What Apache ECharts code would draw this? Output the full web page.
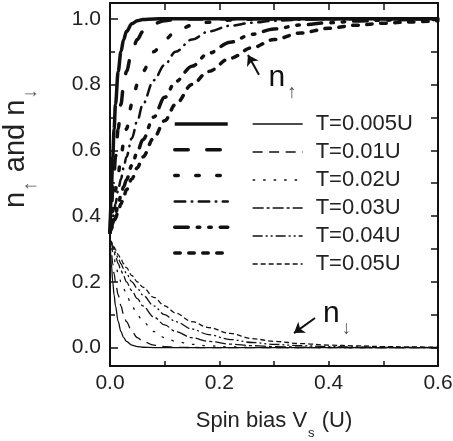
<!DOCTYPE html>
<html><head><meta charset="utf-8">
<script src="https://cdn.jsdelivr.net/npm/echarts@6/dist/echarts.min.js"></script>
<style>html,body{margin:0;padding:0;background:#fff}#c{width:453px;height:441px}</style>
</head><body><div id="c"></div>
<script>
// ---------- data ----------
const V = [0, 0.0025, 0.005, 0.0075, 0.01, 0.015, 0.02, 0.025, 0.03, 0.04, 0.05, 0.06, 0.08, 0.1, 0.12, 0.15, 0.18, 0.22, 0.26, 0.3, 0.35, 0.4, 0.45, 0.5, 0.55, 0.6];
const labels = ['T=0.005U', 'T=0.01U', 'T=0.02U', 'T=0.03U', 'T=0.04U', 'T=0.05U'];

const up_T005 = [0.35, 0.48, 0.58, 0.665, 0.74, 0.84, 0.90, 0.937, 0.961, 0.985, 0.994, 0.998, 0.9996, 1, 1, 1, 1, 1, 1, 1, 1, 1, 1, 1, 1, 1];
const up_T01  = [0.35, 0.415, 0.48, 0.53, 0.58, 0.665, 0.74, 0.80, 0.84, 0.90, 0.937, 0.961, 0.985, 0.994, 0.998, 0.9995, 0.9998, 1, 1, 1, 1, 1, 1, 1, 1, 1];
const up_T02  = [0.35, 0.3825, 0.415, 0.4475, 0.48, 0.53, 0.58, 0.6225, 0.665, 0.74, 0.80, 0.84, 0.90, 0.937, 0.961, 0.9805, 0.9895, 0.996, 0.9985, 0.9995, 0.9998, 1, 1, 1, 1, 1];
const up_T03  = [0.35, 0.3716, 0.393, 0.415, 0.4366, 0.48, 0.513, 0.547, 0.58, 0.637, 0.69, 0.74, 0.813, 0.86, 0.90, 0.937, 0.961, 0.979, 0.988, 0.994, 0.9973, 0.9987, 0.9995, 0.9997, 0.9999, 1];
const up_T04  = [0.35, 0.364, 0.378, 0.392, 0.406, 0.435, 0.463, 0.489, 0.51, 0.554, 0.595, 0.632, 0.701, 0.761, 0.809, 0.856, 0.895, 0.929, 0.953, 0.969, 0.9815, 0.988, 0.993, 0.9957, 0.998, 0.9982];
const up_T05  = [0.35, 0.361, 0.3716, 0.3825, 0.393, 0.415, 0.4366, 0.458, 0.48, 0.513, 0.547, 0.58, 0.637, 0.69, 0.74, 0.80, 0.84, 0.88, 0.912, 0.937, 0.957, 0.971, 0.9805, 0.9865, 0.9904, 0.994];

const down_T005 = [0.33, 0.255, 0.2, 0.16, 0.127, 0.079, 0.049, 0.03, 0.019, 0.0075, 0.003, 0.001, 0.0001, 0, 0, 0, 0, 0, 0, 0, 0, 0, 0, 0, 0, 0];
const down_T01  = [0.33, 0.29, 0.255, 0.225, 0.2, 0.16, 0.127, 0.1, 0.079, 0.049, 0.03, 0.019, 0.0075, 0.003, 0.001, 0.0002, 0.0001, 0, 0, 0, 0, 0, 0, 0, 0, 0];
const down_T02  = [0.33, 0.31, 0.29, 0.2725, 0.255, 0.225, 0.2, 0.18, 0.16, 0.127, 0.1, 0.079, 0.049, 0.03, 0.019, 0.0098, 0.0053, 0.002, 0.0007, 0.0002, 0.0001, 0, 0, 0, 0, 0];
const down_T03  = [0.33, 0.317, 0.303, 0.29, 0.278, 0.255, 0.235, 0.217, 0.2, 0.173, 0.149, 0.127, 0.093, 0.069, 0.049, 0.03, 0.019, 0.0105, 0.006, 0.003, 0.0013, 0.0006, 0.0002, 0.0001, 0, 0];
const down_T04  = [0.33, 0.32, 0.31, 0.30, 0.29, 0.2725, 0.255, 0.24, 0.225, 0.2, 0.18, 0.16, 0.127, 0.1, 0.079, 0.0565, 0.0395, 0.0245, 0.0155, 0.0098, 0.0058, 0.003, 0.0018, 0.0009, 0.0005, 0.0002];
const down_T05  = [0.33, 0.322, 0.314, 0.306, 0.298, 0.283, 0.269, 0.255, 0.243, 0.219, 0.2, 0.184, 0.153, 0.127, 0.105, 0.079, 0.061, 0.043, 0.0272, 0.019, 0.012, 0.0075, 0.0053, 0.003, 0.002, 0.001];

const yTicks = [0, 0.2, 0.4, 0.6, 0.8, 1.0];
const yMinorTicks = [0.1, 0.3, 0.5, 0.7, 0.9];
const yFineTicks = [0, 0.1, 0.2, 0.3, 0.4, 0.5, 0.6, 0.7, 0.8, 0.9, 1.0];

// annotations (data coordinates)
const arrowUp = [[0.2725, 0.8295], [0.2524, 0.890]];
const arrowDown = [[0.375, 0.0898], [0.3366, 0.0441]];
const labelUpPos = [0.2935, 0.79];
const labelDownPos = [0.3935, 0.0715];

// ---------- styles ----------
const INK = '#111';
const FONT = '"Liberation Sans", Arial, sans-serif';
const thickStyles = [
  { width: 3.5, type: 'solid' },
  { width: 3.5, type: [13.5, 18.5] },
  { width: 3.5, type: [3.5, 17.5] },
  { width: 2.5, type: [10.5, 6.5, 0.5, 6.5] },
  { width: 3.5, type: [13.5, 9, 2.5, 9, 2.5, 9] },
  { width: 3.5, type: [5.5, 8.5] }
];
const thinStyles = [
  { width: 1.3, type: 'solid' },
  { width: 1.3, type: [10, 6.5] },
  { width: 1.3, type: [2.5, 8] },
  { width: 1.3, type: [11, 3, 3, 3] },
  { width: 1.3, type: [10, 3, 2, 3, 2, 3] },
  { width: 1.3, type: [5, 3] }
];

const upData = [up_T005, up_T01, up_T02, up_T03, up_T04, up_T05];
const downData = [down_T005, down_T01, down_T02, down_T03, down_T04, down_T05];
const upNames = labels.map(l => 'up ' + l);

const series = [];
labels.forEach((lab, i) => {
  series.push({
    name: upNames[i], type: 'line', xAxisIndex: 0, yAxisIndex: 0,
    data: V.map((v, k) => [v, upData[i][k]]),
    showSymbol: false, symbol: 'none', smooth: 0.35, smoothMonotone: 'x',
    lineStyle: { color: INK, width: thickStyles[i].width, type: thickStyles[i].type, cap: i === 0 ? 'butt' : 'round', join: 'round' },
    itemStyle: { color: INK }, emphasis: { disabled: true }, silent: true
  });
});
labels.forEach((lab, i) => {
  series.push({
    name: lab, type: 'line', xAxisIndex: 0, yAxisIndex: 0,
    data: V.map((v, k) => [v, downData[i][k]]),
    showSymbol: false, symbol: 'none', smooth: 0.35, smoothMonotone: 'x',
    lineStyle: { color: INK, width: thinStyles[i].width, type: thinStyles[i].type, cap: 'butt', join: 'round' },
    itemStyle: { color: INK }, emphasis: { disabled: true }, silent: true
  });
});
series.push({
  name: 'annotations', type: 'line', xAxisIndex: 0, yAxisIndex: 0, data: [], silent: true,
  markLine: {
    silent: true, animation: false, symbol: ['none', 'arrow'], symbolSize: 10,
    lineStyle: { color: INK, width: 2, type: 'solid' },
    label: { show: false }, emphasis: { disabled: true },
    data: [
      [{ coord: arrowUp[0] }, { coord: arrowUp[1] }],
      [{ coord: arrowDown[0] }, { coord: arrowDown[1] }]
    ]
  }
});

const YMIN = -0.056, YMAX = 1.048;
const tickLine = { color: INK, width: 1.5 };
const axisLine = { show: true, onZero: false, lineStyle: { color: INK, width: 2 } };
const hiddenSymbol = { color: 'transparent', borderColor: 'transparent', borderWidth: 0, opacity: 0 };

const option = {
  animation: false,
  backgroundColor: '#fff',
  grid: { left: 110, right: 15, top: 3, bottom: 75, containLabel: false, outerBoundsMode: 'none' },
  legend: [
    {
      data: upNames, orient: 'vertical', left: 173, top: 113, padding: 0,
      itemWidth: 53, itemHeight: 22, itemGap: 6, selectedMode: false,
      formatter: () => '',
      lineStyle: { width: 'inherit' }, itemStyle: hiddenSymbol,
      textStyle: { fontSize: 22, fontFamily: FONT, color: '#222' }
    },
    {
      data: labels, orient: 'vertical', left: 252, top: 113, padding: 0,
      itemWidth: 50, itemHeight: 22, itemGap: 6, selectedMode: false,
      lineStyle: { width: 'inherit' }, itemStyle: hiddenSymbol,
      textStyle: { fontSize: 22, fontFamily: FONT, color: '#222', padding: [0, 0, 0, 8] }
    }
  ],
  xAxis: [
    {
      type: 'value', position: 'bottom', min: 0, max: 0.6, interval: 0.2,
      axisLine: axisLine,
      axisTick: { show: true, inside: true, length: 5, lineStyle: tickLine },
      minorTick: { show: true, splitNumber: 2, length: 5, lineStyle: tickLine },
      splitLine: { show: false }, minorSplitLine: { show: false },
      axisLabel: { show: true, margin: 7, fontSize: 21, fontFamily: FONT, color: '#222', formatter: v => v.toFixed(1) },
      name: '{a|Spin bias V}{s|s}{a| (U)}', nameLocation: 'middle', nameGap: 44,
      nameTextStyle: {
        rich: {
          a: { fontSize: 22, fontFamily: FONT, color: '#222', lineHeight: 30, verticalAlign: 'top' },
          s: { fontSize: 13, fontFamily: FONT, color: '#222', lineHeight: 13, verticalAlign: 'bottom', padding: [0, 1, 0, 1] }
        }
      }
    },
    {
      type: 'value', position: 'top', min: 0, max: 0.6, interval: 0.1,
      axisLine: axisLine,
      axisTick: { show: true, inside: true, length: 7, lineStyle: tickLine },
      axisLabel: { show: false }, splitLine: { show: false }
    }
  ],
  yAxis: [
    {
      type: 'value', position: 'left', min: YMIN, max: YMAX,
      axisLine: axisLine,
      axisTick: { show: true, inside: true, length: 8, customValues: yTicks, lineStyle: tickLine },
      axisLabel: { show: true, margin: 9, fontSize: 21, fontFamily: FONT, color: '#222', customValues: yTicks, formatter: v => v.toFixed(1) },
      splitLine: { show: false }
    },
    {
      type: 'value', position: 'left', min: YMIN, max: YMAX,
      axisLine: { show: false },
      axisTick: { show: true, inside: true, length: 5, customValues: yMinorTicks, lineStyle: tickLine },
      axisLabel: { show: false }, splitLine: { show: false }
    },
    {
      type: 'value', position: 'right', min: YMIN, max: YMAX,
      axisLine: axisLine,
      axisTick: { show: true, inside: true, length: 7, customValues: yFineTicks, lineStyle: tickLine },
      axisLabel: { show: false }, splitLine: { show: false }
    }
  ],
  series: series
};

const chart = echarts.init(document.getElementById('c'), null, { renderer: 'canvas' });
chart.setOption(option);

const pUp = chart.convertToPixel({ xAxisIndex: 0, yAxisIndex: 0 }, labelUpPos);
const pDown = chart.convertToPixel({ xAxisIndex: 0, yAxisIndex: 0 }, labelDownPos);

const annRich = {
  n: { fontSize: 30, fontFamily: FONT, fill: '#111', color: '#111', lineHeight: 40, verticalAlign: 'top' },
  s: { fontSize: 19, fontFamily: FONT, fill: '#555', color: '#555', lineHeight: 19, verticalAlign: 'bottom', padding: [0, 0, 0, 2] }
};
const titleRich = {
  n: { fontSize: 29, fontFamily: FONT, fill: '#222', color: '#222', lineHeight: 39, verticalAlign: 'top' },
  s: { fontSize: 19, fontFamily: FONT, fill: '#555', color: '#555', lineHeight: 19, verticalAlign: 'bottom', padding: [0, 1, 0, 1] }
};

chart.setOption({
  graphic: [
    {
      type: 'text', x: 21, y: 148, rotation: Math.PI / 2, silent: true,
      style: { text: '{n|n}{s|↑}{n| and n}{s|↓}', rich: titleRich, align: 'center', verticalAlign: 'middle' }
    },
    {
      type: 'text', x: pUp[0] - 2, y: pUp[1] - 25.4, silent: true,
      style: { text: '{n|n}{s|↑}', rich: annRich, align: 'left', verticalAlign: 'top' }
    },
    {
      type: 'text', x: pDown[0] - 2, y: pDown[1] - 25.4, silent: true,
      style: { text: '{n|n}{s|↓}', rich: annRich, align: 'left', verticalAlign: 'top' }
    }
  ]
});
</script>
</body></html>
